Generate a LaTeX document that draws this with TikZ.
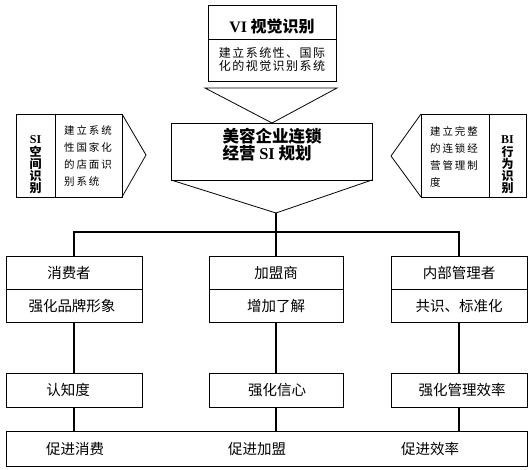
\documentclass[tikz,border=0pt]{standalone}
\usepackage{fontspec}
\setmainfont{Noto Sans CJK SC}
\newfontfamily\ser{Liberation Serif}
\tikzset{
  box/.style={draw, line width=0.8pt, inner sep=0pt},
  thinline/.style={line width=0.8pt},
  conn/.style={line width=1.8pt},
  title/.style={font=\bfseries\fontsize{16}{16}\selectfont, inner sep=0pt},
  vtitle/.style={font=\bfseries\fontsize{12}{12.2}\selectfont, align=center, inner sep=0pt},
  small/.style={font=\fontsize{10.5}{17}\selectfont\addfontfeature{LetterSpace=18}, align=left, inner sep=0pt},
  mid/.style={font=\fontsize{12}{13}\selectfont\addfontfeature{LetterSpace=12}, align=left, inner sep=0pt},
  lbl/.style={font=\fontsize{14.5}{15}\selectfont, inner sep=0pt},
}
\begin{document}
\begin{tikzpicture}[x=1pt,y=-1pt]
\useasboundingbox (0,0) rectangle (531,470);
% VI box
\node[box, minimum width=128pt, minimum height=76pt] (vi) at (272,43) {};
\draw[thinline] (208,39) -- (336,39);
\node[title] (vit) at (272,26) {{\ser VI} 视觉识别};
\node[mid] (vid) at (272,59) {建立系统性、国际\\化的视觉识别系统};
\draw[thinline] (205,88) -- (337,88) -- (272,123) -- cycle;
% main box
\node[box, minimum width=201pt, minimum height=57pt] (main) at (271.5,151.5) {};
\node[title, align=left, font=\bfseries\fontsize{16.5}{16}\selectfont] (mt) at (272,145) {美容企业连锁\\经营 {\ser SI} 规划};
\draw[thinline] (171,180) -- (276,213) -- (372,180);
\coordinate (apex) at (276,213);
\coordinate (bar) at (276,232);
% left SI box
\node[box, minimum width=106pt, minimum height=83pt] (si) at (69,155.5) {};
\draw[thinline] (55,114) -- (55,197);
\node[vtitle] (sit) at (35.5,165) {{\ser SI}\\空\\间\\识\\别};
\node[small] (sid) at (88,156.5) {建立系统\\性国家化\\的店面识\\别系统};
\draw[thinline] (122,114) -- (146,155) -- (122,197);
% right BI box
\node[box, minimum width=105pt, minimum height=83pt] (bi) at (473.5,155.5) {};
\draw[thinline] (489,114) -- (489,197);
\node[vtitle] (bit) at (507.5,165) {{\ser BI}\\行\\为\\识\\别};
\node[small] (bid) at (454,156.5) {建立完整\\的连锁经\\营管理制\\度};
\draw[thinline] (421,114) -- (391,156) -- (421,197);
% row 1
\node[box, minimum width=136pt, minimum height=66pt] (c1) at (74,289) {};
\node[box, minimum width=134pt, minimum height=66pt] (c2) at (276,289) {};
\node[box, minimum width=136pt, minimum height=66pt] (c3) at (459,289) {};
\draw[thinline] (6,289) -- (142,289);
\draw[thinline] (209,289) -- (343,289);
\draw[thinline] (391,289) -- (527,289);
\node[lbl] (c1a) at (69,273) {消费者};
\node[lbl] (c1b) at (72,306) {强化品牌形象};
\node[lbl] (c2a) at (276,273) {加盟商};
\node[lbl] (c2b) at (276,306) {增加了解};
\node[lbl] (c3a) at (459,273) {内部管理者};
\node[lbl] (c3b) at (459,306) {共识、标准化};
% row 3
\node[box, minimum width=136pt, minimum height=34pt] (d1) at (74,390) {};
\node[box, minimum width=134pt, minimum height=34pt] (d2) at (276,390) {};
\node[box, minimum width=136pt, minimum height=34pt] (d3) at (459,390) {};
\node[lbl] at (68,390) (d1t) {认知度};
\node[lbl] at (277,390) (d2t) {强化信心};
\node[lbl] at (462,390) (d3t) {强化管理效率};
% bottom
\node[box, minimum width=521pt, minimum height=35pt] (e) at (266.5,448.5) {};
\node[lbl] at (75,449) (e1) {促进消费};
\node[lbl] at (257,449) (e2) {促进加盟};
\node[lbl] at (430,449) (e3) {促进效率};
% connectors
\draw[conn] (apex) -- (c2.north);
\draw[conn] (c1.north) |- (bar);
\draw[conn] (c3.north) |- (bar);
\draw[conn] (c1.south) -- (d1.north);
\draw[conn] (c2.south) -- (d2.north);
\draw[conn] (c3.south) -- (d3.north);
\draw[conn] (d1.south) -- (d1.south |- e.north);
\draw[conn] (d2.south) -- (d2.south |- e.north);
\draw[conn] (d3.south) -- (d3.south |- e.north);
\end{tikzpicture}
\end{document}
